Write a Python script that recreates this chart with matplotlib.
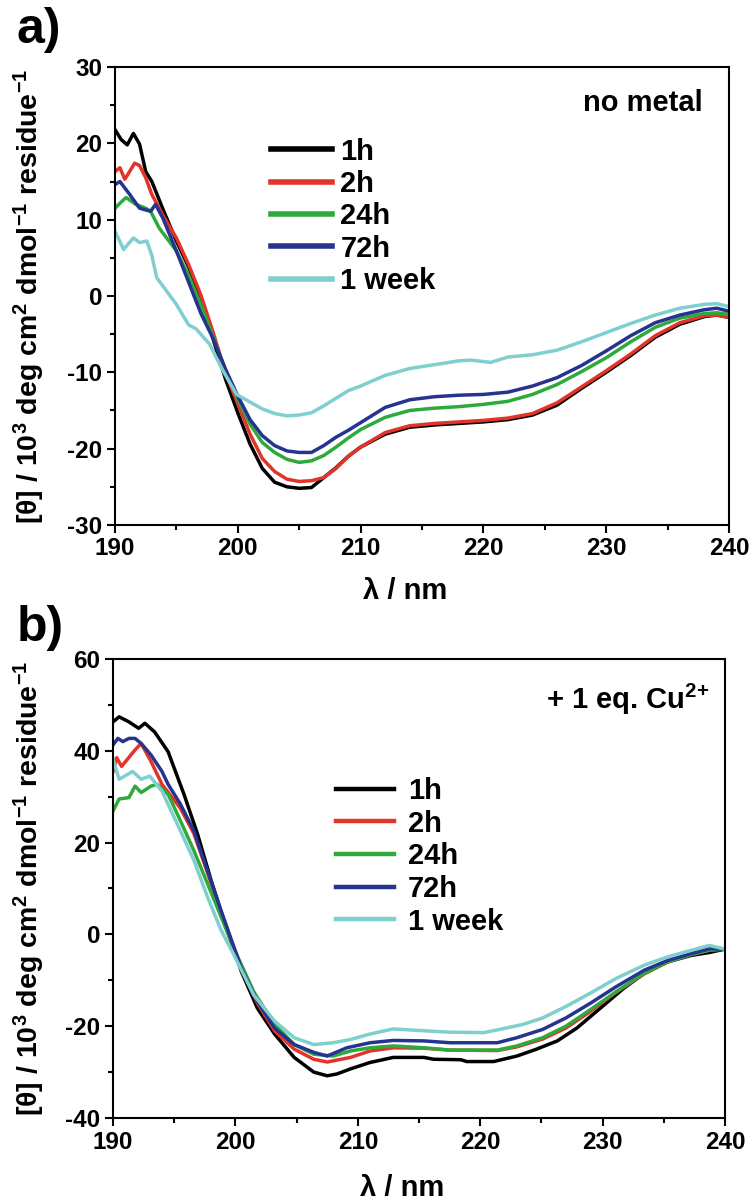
import matplotlib
matplotlib.use("Agg")
import matplotlib.pyplot as plt
from matplotlib.ticker import MultipleLocator

plt.rcParams['font.family'] = ['Liberation Sans', 'DejaVu Sans']
plt.rcParams['font.weight'] = 'bold'
plt.rcParams['axes.unicode_minus'] = False
plt.rcParams['mathtext.fontset'] = 'custom'
plt.rcParams['mathtext.rm'] = 'Liberation Sans:bold'
plt.rcParams['mathtext.it'] = 'Liberation Sans:bold'
plt.rcParams['mathtext.bf'] = 'Liberation Sans:bold'

labels = ['1h', '2h', '24h', '72h', '1 week']
colors = ['#000000', '#e3342b', '#2eaa3c', '#26338f', '#7fcfcf']

# --- panel a: no metal ---
wl_a_1h = [190, 190.5, 191, 191.5, 192, 192.5, 193, 194, 195, 196, 197, 198, 199, 200, 201, 202, 203, 204,
           205, 206, 207, 208, 209, 210, 212, 214, 216, 218, 220, 222, 224, 226, 228, 230, 232, 234, 236,
           238, 239, 240]
a_1h = [21.8, 20.5, 19.8, 21.3, 19.9, 16.3, 15.0, 11.0, 7.2, 3.8, -0.6, -5.7, -10.9, -15.3, -19.4, -22.6,
        -24.4, -25.0, -25.2, -25.1, -23.8, -22.5, -21.0, -19.8, -18.1, -17.2, -16.9, -16.7, -16.5, -16.2,
        -15.6, -14.3, -12.1, -10.0, -7.8, -5.4, -3.7, -2.7, -2.5, -2.8]

wl_a_2h = [190, 190.4, 190.8, 191, 191.6, 192, 192.5, 193, 194, 195, 196, 197, 198, 199, 200, 201, 202, 203,
           204, 205, 206, 207, 208, 209, 210, 212, 214, 216, 218, 220, 222, 224, 226, 228, 230, 232, 234,
           236, 238, 239, 240]
a_2h = [16.3, 16.8, 15.3, 15.8, 17.4, 17.1, 15.5, 13.3, 10.3, 7.6, 4.1, 0.1, -4.8, -10.1, -14.1, -18.1, -21.3,
        -23.0, -24.0, -24.3, -24.2, -23.8, -22.6, -21.0, -19.8, -17.9, -17.0, -16.7, -16.5, -16.3, -16.0,
        -15.4, -14.0, -11.9, -9.8, -7.6, -5.2, -3.5, -2.6, -2.5, -2.8]

wl_a_24h = [190, 190.5, 190.9, 191.7, 192.5, 192.9, 193.6, 195, 196, 197, 198, 199, 200, 201, 202, 203, 204,
            205, 206, 207, 208, 209, 210, 212, 214, 216, 218, 220, 222, 224, 226, 228, 230, 232, 234, 236,
            238, 239, 240]
a_24h = [11.5, 12.3, 12.9, 12.0, 11.5, 11.1, 8.9, 5.9, 2.7, -1.2, -5.4, -9.7, -13.5, -16.8, -19.2, -20.5,
         -21.4, -21.8, -21.6, -20.9, -19.8, -18.6, -17.5, -15.9, -15.0, -14.7, -14.5, -14.2, -13.8, -12.9,
         -11.6, -9.9, -8.1, -6.0, -4.1, -2.9, -2.3, -2.2, -2.4]

wl_a_72h = [190, 190.4, 191.2, 192, 192.9, 193.3, 193.9, 195, 196, 197, 198, 199, 200, 201, 202, 203, 204,
            205, 206, 207, 208, 209, 210, 212, 214, 216, 218, 220, 222, 224, 226, 228, 230, 232, 234, 236,
            238, 239, 240]
a_72h = [14.6, 15.0, 13.3, 11.5, 11.1, 12.0, 10.2, 5.9, 1.8, -2.3, -5.6, -9.6, -13.1, -16.2, -18.3, -19.6,
         -20.3, -20.5, -20.5, -19.6, -18.5, -17.6, -16.6, -14.6, -13.6, -13.2, -13.0, -12.9, -12.6, -11.8,
         -10.7, -9.1, -7.2, -5.2, -3.5, -2.5, -1.8, -1.6, -2.0]

wl_a_1w = [190, 190.7, 191.5, 192, 192.6, 193, 193.4, 195, 196, 196.6, 197.7, 198.8, 199.9, 201, 202, 203,
           204, 205, 206, 207, 208, 209, 210, 212, 214, 216, 218, 219, 220.6, 222, 224, 226, 228, 230, 232,
           234, 236, 238, 239, 240]
a_1w = [8.5, 6.1, 7.6, 7.0, 7.2, 5.3, 2.4, -1.1, -3.8, -4.3, -6.3, -9.8, -12.9, -13.9, -14.8, -15.4, -15.7,
        -15.6, -15.3, -14.4, -13.4, -12.4, -11.8, -10.4, -9.5, -9.0, -8.5, -8.4, -8.7, -8.0, -7.7, -7.1,
        -6.0, -4.8, -3.6, -2.5, -1.6, -1.1, -1.0, -1.4]

# --- panel b: + 1 eq. Cu2+ ---
wl_b_1h = [190, 190.5, 191.3, 192.1, 192.6, 193.4, 194.5, 195.8, 196.9, 198, 199.1, 200.5, 201.8, 203.2,
           204.8, 206.4, 207.5, 208.3, 209.4, 211, 212.9, 215.4, 216.2, 218.4, 218.9, 221.1, 223, 224.6,
           226.3, 227.9, 229.8, 231.7, 233.4, 235.3, 237.2, 238.8, 240]
b_1h = [46.3, 47.4, 46.3, 44.9, 46.0, 44.1, 39.8, 30.5, 21.9, 11.9, 2.6, -8.2, -16.1, -21.7, -26.8, -30.0,
        -30.8, -30.4, -29.3, -27.9, -26.8, -26.8, -27.2, -27.3, -27.7, -27.7, -26.5, -25.0, -23.2, -20.4,
        -16.1, -11.8, -8.5, -6.0, -4.6, -3.9, -3.2]

wl_b_2h = [190, 190.3, 190.7, 191.8, 192.3, 193.1, 194, 195.5, 196.6, 197.7, 198.8, 200.5, 201.8, 203.2,
           204.8, 206.4, 207.5, 209.4, 211, 212.9, 215.4, 217.5, 221.4, 223, 225.1, 227, 229, 231.1, 233.4,
           235.3, 237.2, 238.8, 240]
b_2h = [35.5, 38.5, 36.6, 40.2, 41.6, 37.7, 32.7, 27.5, 22.0, 13.6, 5.0, -7.5, -15.0, -21.0, -25.0, -27.2,
        -27.8, -26.8, -25.4, -24.7, -24.8, -25.2, -25.3, -24.5, -22.8, -20.4, -16.8, -12.6, -8.6, -6.0,
        -4.4, -3.4, -3.2]

wl_b_24h = [190, 190.5, 191.3, 191.8, 192.3, 193.1, 193.6, 194.5, 195.5, 196.6, 197.7, 198.8, 199.9, 201.5,
            203.2, 204.8, 206.4, 208, 209.4, 211, 212.9, 215.4, 217.5, 221.4, 223, 225.1, 227, 229, 231.1,
            233.4, 235.3, 237.2, 238.8, 240]
b_24h = [26.9, 29.5, 29.8, 32.3, 30.9, 32.3, 32.7, 30.5, 24.8, 18.3, 11.2, 4.0, -3.2, -12.5, -19.6, -24.0,
         -26.1, -26.5, -25.4, -24.7, -24.3, -24.7, -25.2, -25.2, -24.3, -22.5, -20.0, -16.4, -12.5, -8.5,
         -6.0, -4.4, -3.4, -3.2]

wl_b_72h = [190, 190.4, 190.8, 191.3, 191.8, 192.3, 193.1, 194, 194.5, 195.5, 196.6, 197.7, 198.8, 200.5,
            201.8, 203.2, 204.8, 206.4, 207.5, 209.1, 211, 212.9, 215.4, 217.5, 221.4, 223, 225.1, 227, 229,
            231.1, 233.4, 235.3, 237.2, 238.8, 240]
b_72h = [41.3, 42.7, 42.0, 42.7, 42.7, 41.6, 39.1, 35.5, 32.7, 28.4, 22.6, 14.0, 5.4, -7.5, -14.6, -20.4,
         -24.0, -25.7, -26.5, -24.7, -23.6, -23.1, -23.2, -23.6, -23.6, -22.5, -20.7, -18.2, -15.0, -11.4,
         -7.8, -5.7, -4.2, -3.1, -3.2]

wl_b_1w = [190, 190.5, 191.6, 192.3, 193, 194, 195.5, 196.6, 197.7, 198.8, 199.9, 201.5, 203.2, 204.8, 206.4,
           208, 209.4, 211, 212.9, 214.8, 217.5, 220.3, 221.6, 223.5, 225.1, 227, 229, 231.1, 233.4, 235.3,
           237.2, 238.7, 240]
b_1w = [38.1, 33.8, 35.5, 33.8, 34.5, 31.2, 22.6, 16.2, 8.3, 1.1, -4.6, -13.2, -18.9, -22.5, -24.0, -23.6,
        -22.9, -21.7, -20.6, -20.9, -21.3, -21.4, -20.7, -19.6, -18.2, -15.7, -12.8, -9.6, -6.7, -4.9, -3.5,
        -2.4, -3.2]

panel_a = [(wl_a_1h, a_1h), (wl_a_2h, a_2h), (wl_a_24h, a_24h), (wl_a_72h, a_72h), (wl_a_1w, a_1w)]
panel_b = [(wl_b_1h, b_1h), (wl_b_2h, b_2h), (wl_b_24h, b_24h), (wl_b_72h, b_72h), (wl_b_1w, b_1w)]

fig = plt.figure(figsize=(7.52, 12.01), dpi=100)
ax_a = fig.add_axes([0.1529, 0.5629, 0.8165, 0.3813])
ax_b = fig.add_axes([0.1503, 0.0691, 0.8138, 0.3822])

ylab = r'[θ] / 10$^{3}$ deg cm$^{2}$ dmol$^{-1}$ residue$^{-1}$'
TXT = 21


def style(ax, ymin, ymax, ymaj, ymin_step):
    ax.set_xlim(190, 240)
    ax.set_ylim(ymin, ymax)
    ax.xaxis.set_major_locator(MultipleLocator(10))
    ax.xaxis.set_minor_locator(MultipleLocator(5))
    ax.yaxis.set_major_locator(MultipleLocator(ymaj))
    ax.yaxis.set_minor_locator(MultipleLocator(ymin_step))
    ax.tick_params(which='both', direction='out', top=False, right=False, width=1.5, labelsize=17.5)
    ax.tick_params(which='major', length=6, pad=3)
    ax.tick_params(which='minor', length=3.5)
    for s in ax.spines.values():
        s.set_linewidth(1.5)
    for lab in ax.get_xticklabels() + ax.get_yticklabels():
        lab.set_fontweight('bold')
    ax.set_xlabel('λ / nm', fontsize=TXT, fontweight='bold')
    ax.set_ylabel(ylab, fontsize=20.5, fontweight='bold')


# panel a
for (wl, vals), c, lab in zip(panel_a, colors, labels):
    ax_a.plot(wl, vals, color=c, lw=2.5, label=lab)
style(ax_a, -30, 30, 10, 5)
ax_a.xaxis.set_label_coords(0.472, -0.114)
ax_a.yaxis.set_label_coords(-0.111, 0.5)
leg_a = ax_a.legend(loc='upper left', bbox_to_anchor=(0.254, 0.846), frameon=False, fontsize=TXT,
                    handlelength=2.1, handletextpad=0.28, labelspacing=0.15, borderpad=0, borderaxespad=0)
for h in leg_a.get_lines():
    h.set_linewidth(4)
ax_a.text(0.958, 0.921, 'no metal', transform=ax_a.transAxes, ha='right', va='center',
          fontsize=TXT, fontweight='bold')
fig.text(0.022, 0.975, 'a)', fontsize=36, fontweight='bold', ha='left', va='center')

# panel b
for (wl, vals), c, lab in zip(panel_b, colors, labels):
    ax_b.plot(wl, vals, color=c, lw=2.5, label=lab)
style(ax_b, -40, 60, 20, 10)
ax_b.xaxis.set_label_coords(0.472, -0.122)
ax_b.yaxis.set_label_coords(-0.108, 0.5)
leg_b = ax_b.legend(loc='upper left', bbox_to_anchor=(0.364, 0.743), frameon=False, fontsize=TXT,
                    handlelength=2.0, handletextpad=0.48, labelspacing=0.16, borderpad=0, borderaxespad=0)
for h in leg_b.get_lines():
    h.set_linewidth(3.2)
ax_b.text(0.974, 0.911, r'+ 1 eq. Cu$^{2{+}}$', transform=ax_b.transAxes, ha='right', va='center',
          fontsize=TXT, fontweight='bold')
fig.text(0.022, 0.477, 'b)', fontsize=36, fontweight='bold', ha='left', va='center')

fig.savefig('out.png', dpi=100)
